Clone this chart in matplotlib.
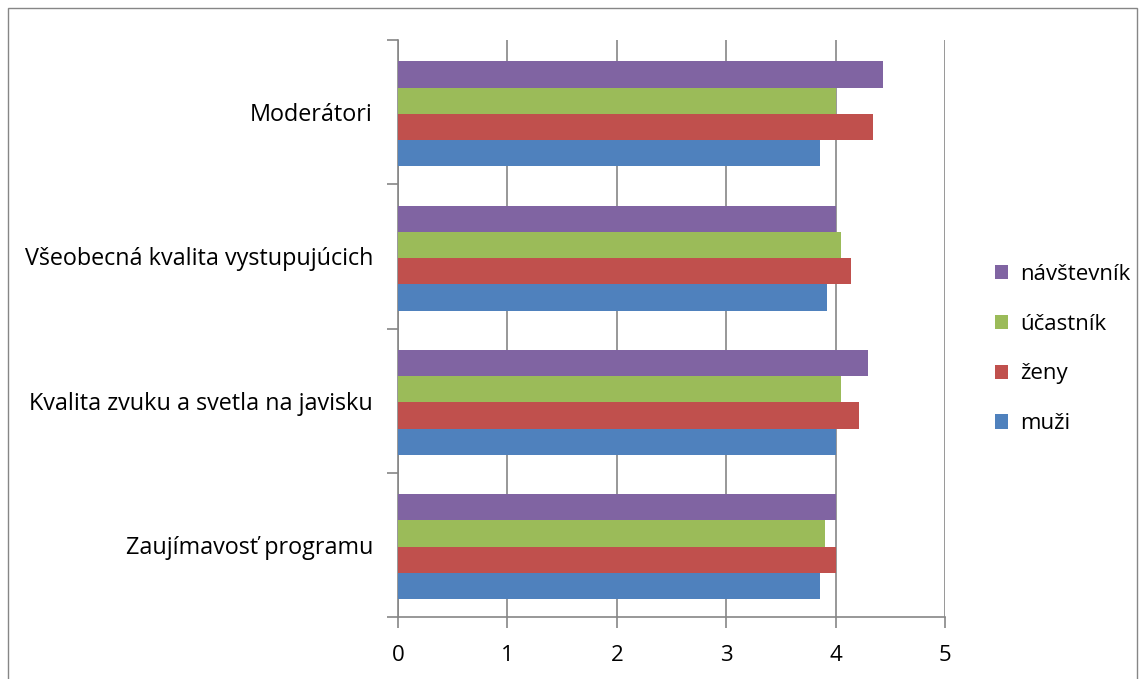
import matplotlib.pyplot as plt
import numpy as np
from matplotlib.patches import Rectangle

plt.rcParams['font.family'] = ['Open Sans', 'DejaVu Sans']

categories = ["Zaujímavosť programu", "Kvalita zvuku a svetla na javisku",
              "Všeobecná kvalita vystupujúcich", "Moderátori"]
series = ["muži", "ženy", "účastník", "návštevník"]
muzi = [3.86, 4.0, 3.92, 3.86]
zeny = [4.0, 4.21, 4.14, 4.34]
ucastnik = [3.9, 4.05, 4.05, 4.0]
navstevnik = [4.0, 4.3, 4.0, 4.43]
values = [muzi, zeny, ucastnik, navstevnik]
colours = ["#4F81BD", "#C0504D", "#9BBB59", "#8064A2"]
xticks = [0, 1, 2, 3, 4, 5]

W, H = 1145, 679
fig = plt.figure(figsize=(W / 100, H / 100), dpi=100)
ax = fig.add_axes([398 / W, 1 - 617 / H, (945 - 398) / W, (617 - 40) / H])

# figure border
fig.add_artist(Rectangle((8 / W, -0.01), (1137 - 8) / W, 1 - 8 / H + 0.01,
                         transform=fig.transFigure, fill=False,
                         edgecolor="#868686", linewidth=1))

grid = "#868686"
bar_h = 0.182
y = np.arange(len(categories))
for i, (vals, col, name) in enumerate(zip(values, colours, series)):
    offs = (i - 1.5) * bar_h - 0.012
    ax.barh(y + offs, vals, height=bar_h, color=col, label=name, zorder=3)

ax.set_xlim(0, 5)
ax.set_ylim(-0.5, len(categories) - 0.5)
ax.set_xticks(xticks)
ax.set_xticklabels([str(t) for t in xticks], fontsize=16)
ax.xaxis.grid(True, color=grid, linewidth=1.2, zorder=0)
ax.tick_params(axis="x", length=8, width=1.2, color=grid, pad=12, direction="out")

ax.set_yticks(np.arange(-0.5, len(categories), 1.0), minor=False)
ax.set_yticklabels([])
ax.set_yticks(y, minor=True)
ax.set_yticklabels(categories, minor=True, fontsize=16.8)
ax.tick_params(axis="y", which="major", length=8, width=1.2, color=grid)
ax.tick_params(axis="y", which="minor", length=0, pad=18)

for side in ["top", "right"]:
    ax.spines[side].set_visible(False)
for side in ["left", "bottom"]:
    ax.spines[side].set_color(grid)
    ax.spines[side].set_linewidth(1.2)

handles, labels = ax.get_legend_handles_labels()
leg = fig.legend(handles[::-1], labels[::-1], loc="center left",
                 bbox_to_anchor=(975 / W, 1 - 349 / H), frameon=False,
                 fontsize=16, handlelength=0.6, handleheight=0.6,
                 labelspacing=1.3, handletextpad=0.55)

fig.savefig("out.png", dpi=100)
